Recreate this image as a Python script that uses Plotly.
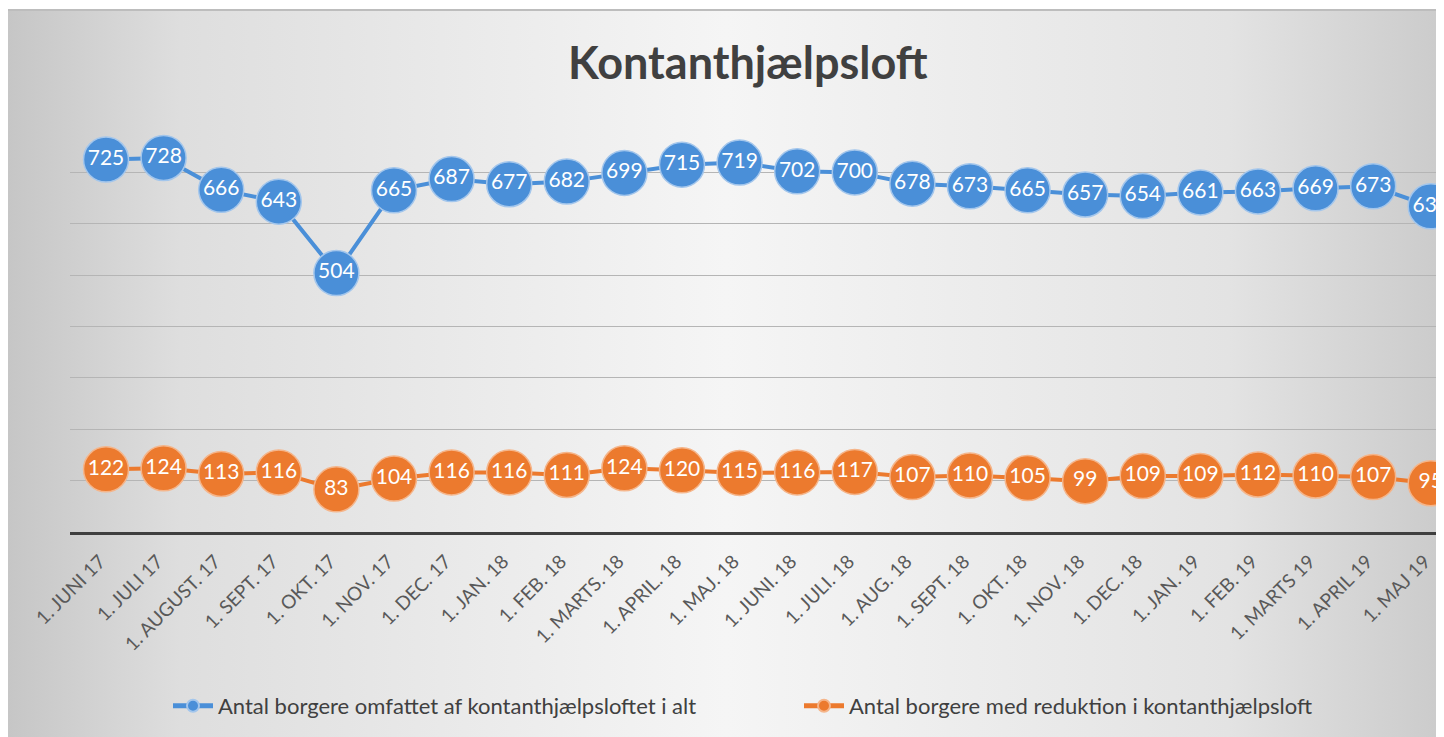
import plotly.graph_objects as go

categories = ["1. JUNI 17", "1. JULI 17", "1. AUGUST. 17", "1. SEPT. 17", "1. OKT. 17", "1. NOV. 17",
              "1. DEC. 17", "1. JAN. 18", "1. FEB. 18", "1. MARTS. 18", "1. APRIL. 18", "1. MAJ. 18",
              "1. JUNI. 18", "1. JULI. 18", "1. AUG. 18", "1. SEPT. 18", "1. OKT. 18", "1. NOV. 18",
              "1. DEC. 18", "1. JAN. 19", "1. FEB. 19", "1. MARTS 19", "1. APRIL 19", "1. MAJ 19"]
total = [725, 728, 666, 643, 504, 665, 687, 677, 682, 699, 715, 719,
         702, 700, 678, 673, 665, 657, 654, 661, 663, 669, 673, 634]
reduced = [122, 124, 113, 116, 83, 104, 116, 116, 111, 124, 120, 115,
           116, 117, 107, 110, 105, 99, 109, 109, 112, 110, 107, 95]
name_total = "Antal borgere omfattet af kontanthjælpsloftet i alt"
name_reduced = "Antal borgere med reduktion i kontanthjælpsloft"
title = "Kontanthjælpsloft"

# page has an 8px body margin, so the figure is sized to fit the window
W, H = 1436, 729
BLUE = "#4a8fd8"
ORANGE = "#ec7a2e"
FONT = "Lato"

fig = go.Figure()

# background panel (gradient) on full-paper axes
fig.add_trace(go.Scatter(
    x=[0, W, W, 0, 0], y=[0, 0, 727, 727, 0], mode="lines", fill="toself",
    line=dict(width=0), hoverinfo="skip", showlegend=False,
    fillgradient=dict(type="horizontal",
                      colorscale=[[0, "#c6c6c6"], [0.12, "#dedede"], [0.5, "#f5f5f5"],
                                  [0.85, "#e3e3e3"], [1, "#cbcbcb"]]),
    xaxis="x", yaxis="y"))

idx = list(range(len(categories)))

for vals, name, col, edge in [(total, name_total, BLUE, "#a3c6ec"),
                              (reduced, name_reduced, ORANGE, "#f5b58a")]:
    fig.add_trace(go.Scatter(
        x=idx, y=vals, mode="lines+markers", name=name,
        line=dict(color=col, width=4),
        marker=dict(size=45, color=col, line=dict(color=edge, width=1.5)),
        xaxis="x2", yaxis="y2", showlegend=True))
    fig.add_trace(go.Scatter(
        x=idx, y=vals, mode="text", text=[str(v) for v in vals],
        textposition="middle center",
        textfont=dict(family=FONT, size=21, color="white"),
        xaxis="x2", yaxis="y2", showlegend=False, hoverinfo="skip"))

y_lo = (H - 524) / H
y_hi = (H - 113) / H

fig.update_layout(
    width=W, height=H,
    margin=dict(l=0, r=0, t=0, b=0, autoexpand=False),
    paper_bgcolor="white",
    plot_bgcolor="rgba(0,0,0,0)",
    font=dict(family=FONT, color="#404040"),
    xaxis=dict(domain=[0, 1], range=[0, W], visible=False, fixedrange=True),
    yaxis=dict(domain=[0, 1], range=[0, H], visible=False, fixedrange=True),
    xaxis2=dict(domain=[62 / W, 1], range=[-0.625, 23.23], anchor="y2",
                tickmode="array", tickvals=idx, ticktext=categories, tickangle=-45,
                tickfont=dict(family=FONT, size=19, color="#595959"),
                ticklabelshift=-6, ticklabelstandoff=8,
                showgrid=False, zeroline=False, showline=True,
                linecolor="#3f3f3f", linewidth=3, ticks="", automargin=False),
    yaxis2=dict(domain=[y_lo, y_hi], range=[0, 800], anchor="x2",
                tickvals=[100, 200, 300, 400, 500, 600, 700, 800],
                showticklabels=False, showgrid=True, gridcolor="#b5b5b5", gridwidth=1,
                zeroline=False, automargin=False),
    shapes=[
        dict(type="line", xref="x", yref="y", x0=0, x1=W, y0=727, y1=727,
             line=dict(color="#bdbdbd", width=2)),
        dict(type="rect", xref="x", yref="y", x0=84, x1=1397, y0=9, y1=52,
             fillcolor="#ebebeb", line=dict(width=0), layer="below"),
    ],
    annotations=[
        dict(text="<b>" + title + "</b>", xref="paper", yref="paper",
             x=740 / W, y=(H - 54) / H, xanchor="center", yanchor="middle",
             showarrow=False, font=dict(family=FONT, size=45, color="#404040")),
    ],
    legend=dict(orientation="h", x=160 / W, y=(H - 698) / H, xanchor="left", yanchor="middle",
                bgcolor="rgba(0,0,0,0)", font=dict(family=FONT, size=22, color="#404040"),
                itemsizing="constant", itemwidth=40, entrywidth=576, traceorder="normal"),
)

fig.write_html("out.html")
